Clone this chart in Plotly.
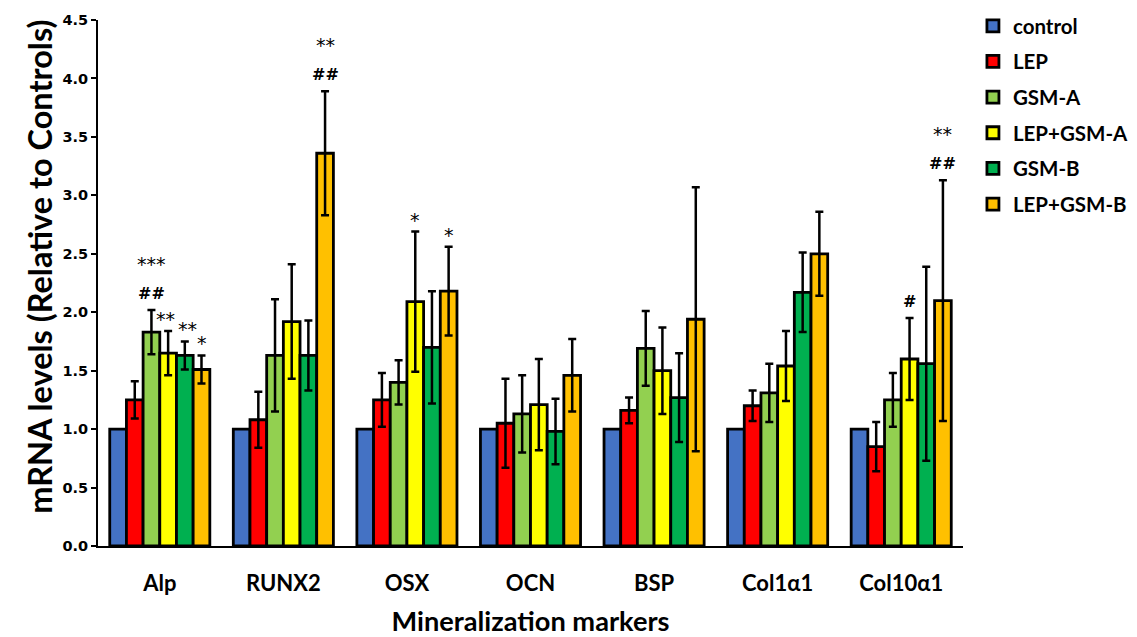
import plotly.graph_objects as go

# Mineralization marker expression (fold change vs. control), mean ± SD
markers = ["Alp", "RUNX2", "OSX", "OCN", "BSP", "Col1α1", "Col10α1"]
groups = ["control", "LEP", "GSM-A", "LEP+GSM-A", "GSM-B", "LEP+GSM-B"]
colors = ["#4472C4", "#FF0000", "#92D050", "#FFFF00", "#00B050", "#FFC000"]

control = [1.0, 1.0, 1.0, 1.0, 1.0, 1.0, 1.0]
lep = [1.25, 1.08, 1.25, 1.05, 1.16, 1.20, 0.85]
gsm_a = [1.83, 1.63, 1.40, 1.13, 1.69, 1.31, 1.25]
lep_gsm_a = [1.65, 1.92, 2.09, 1.21, 1.50, 1.54, 1.60]
gsm_b = [1.63, 1.63, 1.70, 0.98, 1.27, 2.17, 1.56]
lep_gsm_b = [1.51, 3.36, 2.18, 1.46, 1.94, 2.50, 2.10]

lep_sd = [0.16, 0.24, 0.23, 0.38, 0.11, 0.13, 0.21]
gsm_a_sd = [0.19, 0.48, 0.19, 0.33, 0.32, 0.25, 0.23]
lep_gsm_a_sd = [0.19, 0.49, 0.60, 0.39, 0.37, 0.30, 0.35]
gsm_b_sd = [0.12, 0.30, 0.48, 0.28, 0.38, 0.34, 0.83]
lep_gsm_b_sd = [0.12, 0.53, 0.38, 0.31, 1.13, 0.36, 1.03]

means = [control, lep, gsm_a, lep_gsm_a, gsm_b, lep_gsm_b]
sds = [None, lep_sd, gsm_a_sd, lep_gsm_a_sd, gsm_b_sd, lep_gsm_b_sd]

# Significance labels: (marker index, group index, labels from bottom to top,
# small horizontal nudge in px so neighbouring labels do not collide)
significance = [
    (0, 2, ["##", "***"], 0),
    (0, 3, ["**"], -3),
    (0, 4, ["**"], 3),
    (0, 5, ["*"], 1),
    (1, 5, ["##", "**"], 0),
    (2, 3, ["*"], 0),
    (2, 5, ["*"], 0),
    (6, 3, ["#"], 0),
    (6, 5, ["##", "**"], 0),
]

BARGAP = 0.19
xs = list(range(len(markers)))

fig = go.Figure()
for g, name in enumerate(groups):
    err = dict(visible=False)
    if sds[g] is not None:
        err = dict(type="data", array=sds[g], visible=True,
                   color="black", thickness=2.5, width=4)
    fig.add_trace(go.Bar(
        x=xs, y=means[g], name=name, legendgroup=name,
        marker=dict(color=colors[g], line=dict(color="black", width=2.8)),
        error_y=err,
    ))

bar_w = (1 - BARGAP) / len(groups)
for m, g, labels, nudge in significance:
    top = means[g][m] + (sds[g][m] if sds[g] is not None else 0)
    xpos = m + (g - (len(groups) - 1) / 2) * bar_w
    for level, lab in enumerate(labels):
        star = lab.startswith("*")
        if star:
            font = dict(family="DejaVu Sans", size=19, color="black")
            shift = -1 + level * 34
        else:
            font = dict(family="DejaVu Sans", size=16, color="black",
                        weight="bold")
            shift = 5 + level * 34
        fig.add_annotation(
            x=xpos, y=top, text=lab, showarrow=False,
            yanchor="bottom", yshift=shift, xshift=nudge, font=font,
        )

# Vertical axis title, set slightly above the plot's mid-height
fig.add_annotation(
    text="mRNA levels (Relative to Controls)", textangle=-90,
    xref="paper", yref="paper", x=0, y=0.531, xshift=-58,
    xanchor="center", yanchor="middle", showarrow=False,
    font=dict(family="Lato", size=32.5, weight="bold", color="black"),
)

fig.update_layout(
    width=1137, height=637,
    margin=dict(l=98, r=174, t=20, b=91, autoexpand=False),
    paper_bgcolor="white", plot_bgcolor="white",
    barmode="group", bargap=BARGAP, bargroupgap=0,
    font=dict(family="Lato", color="black"),
    legend=dict(
        xref="container", yref="container",
        x=0.8557, y=0.9906, xanchor="left", yanchor="top",
        font=dict(family="Lato", size=20.5, weight="bold"),
        tracegroupgap=6, itemclick=False,
    ),
)

fig.update_xaxes(
    range=[-0.5, len(markers) - 0.5],
    tickvals=xs, ticktext=markers, automargin=False,
    showline=True, linecolor="black", linewidth=2,
    ticks="outside", ticklen=17, tickcolor="rgba(0,0,0,0)",
    tickfont=dict(family="Lato", size=22, weight="bold"),
    title=dict(text="Mineralization markers", standoff=18,
               font=dict(family="Lato", size=27.2, weight="bold")),
    showgrid=False, zeroline=False,
)
fig.update_yaxes(
    range=[0, 4.5], dtick=0.5, tickformat=".1f", automargin=False,
    showline=True, linecolor="black", linewidth=2,
    ticks="outside", ticklen=5, tickwidth=1.5, tickcolor="black",
    tickfont=dict(family="DejaVu Sans", size=14.5, weight="bold"),
    showgrid=False, zeroline=False,
)

fig.write_html("out.html")
